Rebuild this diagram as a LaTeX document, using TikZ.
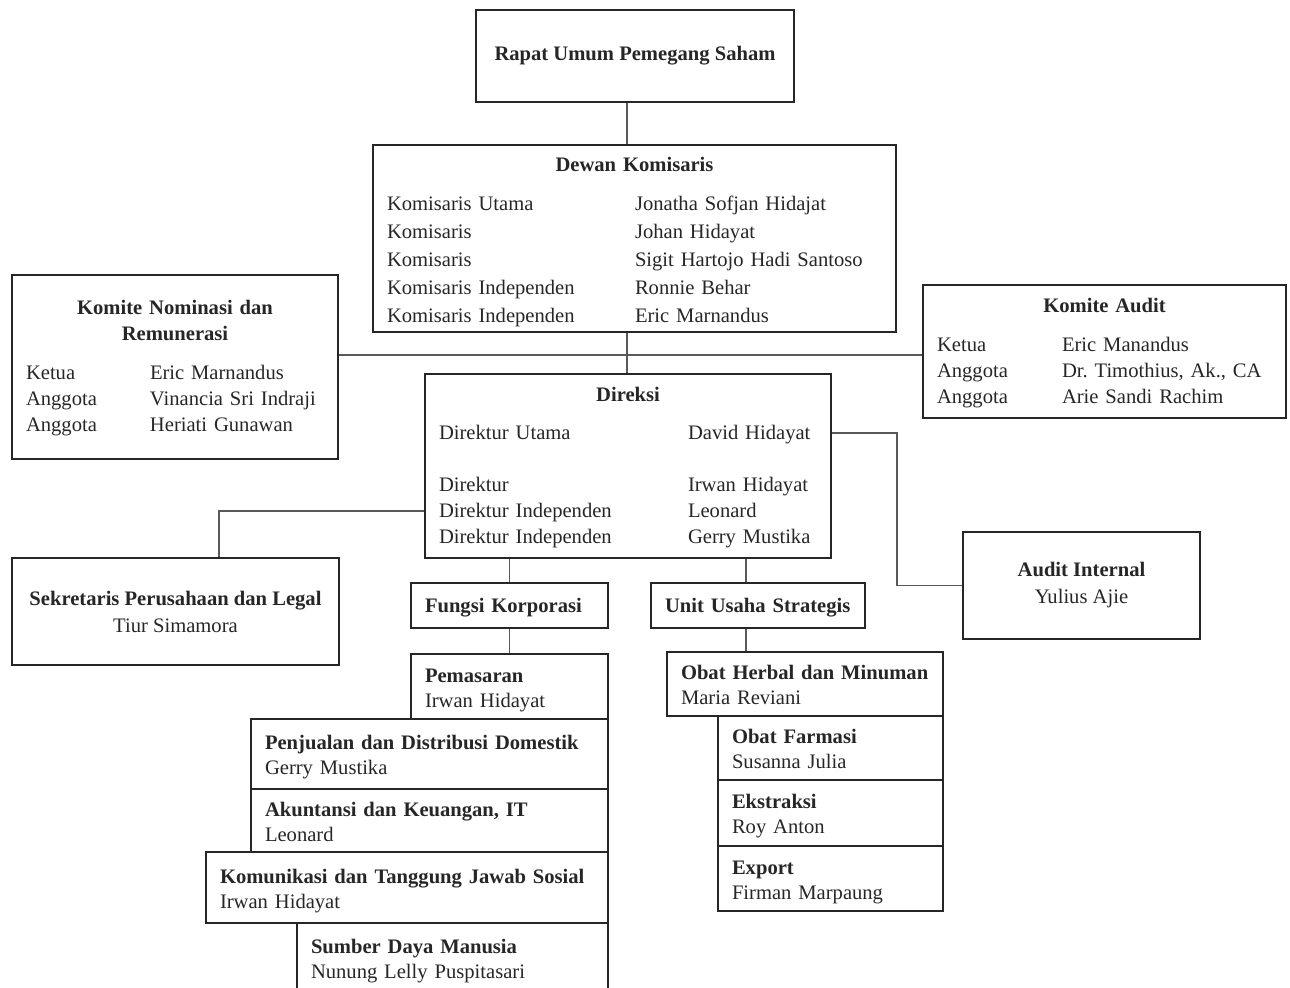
\documentclass[tikz,border=0pt]{standalone}
\usepackage{fontspec}
\setmainfont{Liberation Serif}
\tikzset{
  orgbox/.style={draw=black!85, line width=1pt, anchor=north west, inner xsep=7pt, inner ysep=0pt,
    align=left, text=black!85, font=\frenchspacing\fontsize{10.3}{13}\selectfont},
  midbox/.style={orgbox, align=center, font=\fontsize{10.3}{13.5}\selectfont},
  entry/.style={orgbox, font=\fontsize{10.3}{12.5}\selectfont},
  link/.style={draw=black!65, line width=0.6pt}
}
\newcommand{\orgentry}[2]{\begin{tabular}{@{}l@{}}\rule{0pt}{11.75pt}\textbf{#1}\\#2\end{tabular}}
\begin{document}
\begin{tikzpicture}[x=0.5pt, y=-0.5pt]
    \clip (0,0) rectangle (1290,988);
    \coordinate (hub) at (627,355);
    % shareholders and boards
    \node[midbox, minimum width=159pt, minimum height=46pt] (rups) at (475,9) {\textbf{Rapat Umum Pemegang Saham}};
    \node[orgbox, text width=247.5pt, minimum height=93.5pt, font=\fontsize{10.3}{14}\selectfont] (dewan) at (372,144)
      {\centering\rule{0pt}{13pt}\textbf{Dewan Komisaris}\par\vspace{5.5pt}\raggedright
       \begin{tabular}[t]{@{}p{124pt}@{}l@{}}
       Komisaris Utama & Jonatha Sofjan Hidajat\\
       Komisaris & Johan Hidayat\\
       Komisaris & Sigit Hartojo Hadi Santoso\\
       Komisaris Independen & Ronnie Behar\\
       Komisaris Independen & Eric Marnandus
       \end{tabular}};
    \node[orgbox, text width=149pt, minimum height=92pt] (nominasi) at (11,274)
      {\centering\rule{0pt}{10pt}\textbf{Komite Nominasi dan}\\\textbf{Remunerasi}\par\vspace{6.5pt}\raggedright
       \begin{tabular}[t]{@{}p{62pt}@{}l@{}}
       Ketua & Eric Marnandus\\
       Anggota & Vinancia Sri Indraji\\
       Anggota & Heriati Gunawan
       \end{tabular}};
    \node[orgbox, text width=167.5pt, minimum height=66.5pt] (komaudit) at (922,284)
      {\centering\rule{0pt}{10pt}\textbf{Komite Audit}\par\vspace{6.5pt}\raggedright
       \begin{tabular}[t]{@{}p{62.5pt}@{}l@{}}
       Ketua & Eric Manandus\\
       Anggota & Dr. Timothius, Ak., CA\\
       Anggota & Arie Sandi Rachim
       \end{tabular}};
    \node[orgbox, text width=189pt, minimum height=92pt] (direksi) at (424,373)
      {\centering\rule{0pt}{10pt}\textbf{Direksi}\par\vspace{6pt}\raggedright
       \begin{tabular}[t]{@{}p{124.5pt}@{}l@{}}
       Direktur Utama & David Hidayat\\
        & \\
       Direktur & Irwan Hidayat\\
       Direktur Independen & Leonard\\
       Direktur Independen & Gerry Mustika
       \end{tabular}};
    \node[midbox, minimum width=118.5pt, minimum height=53.5pt] (intaudit) at (962,531) {\textbf{Audit Internal}\\Yulius Ajie};
    \node[midbox, minimum width=163.5pt, minimum height=53.5pt] (sekretaris) at (11,557) {\textbf{Sekretaris Perusahaan dan Legal}\\Tiur Simamora};
    % corporate functions
    \node[orgbox, text width=84.5pt, minimum height=22.5pt] (fungsi) at (410,582) {\rule{0pt}{9pt}\textbf{Fungsi Korporasi}};
    \node[entry, text width=84.5pt, minimum height=32.5pt] (pemasaran) at (410,653) {\orgentry{Pemasaran}{Irwan Hidayat}};
    \node[entry, text width=164.5pt, minimum height=35pt] (penjualan) at (250,718) {\orgentry{Penjualan dan Distribusi Domestik}{Gerry Mustika}};
    \node[entry, text width=164.5pt, minimum height=31.5pt] (akuntansi) at (250,788) {\orgentry{Akuntansi dan Keuangan, IT}{Leonard}};
    \node[entry, text width=187pt, minimum height=35.5pt] (komunikasi) at (205,851) {\orgentry{Komunikasi dan Tanggung Jawab Sosial}{Irwan Hidayat}};
    \node[entry, text width=141.5pt, minimum height=35pt] (sdm) at (296,922) {\orgentry{Sumber Daya Manusia}{Nunung Lelly Puspitasari}};
    % strategic units
    \node[orgbox, text width=93pt, minimum height=22.5pt] (uus) at (650,582) {\rule{0pt}{9pt}\textbf{Unit Usaha Strategis}};
    \node[entry, text width=124pt, minimum height=32pt] (herbal) at (666,651) {\orgentry{Obat Herbal dan Minuman}{Maria Reviani}};
    \node[entry, text width=98.5pt, minimum height=32pt] (farmasi) at (717,715) {\orgentry{Obat Farmasi}{Susanna Julia}};
    \node[entry, text width=98.5pt, minimum height=33pt] (ekstraksi) at (717,779) {\orgentry{Ekstraksi}{Roy Anton}};
    \node[entry, text width=98.5pt, minimum height=32.5pt] (export) at (717,845) {\orgentry{Export}{Firman Marpaung}};
    % connectors
    \draw[link] (rups.south -| hub) -- (dewan.north -| hub);
    \draw[link] (dewan.south -| hub) -- (direksi.north -| hub);
    \draw[link] (nominasi.east |- hub) -- (komaudit.west |- hub);
    \coordinate (iaknee) at (897,433);
    \draw[link] (direksi.east |- iaknee) -- (iaknee) |- (intaudit.west);
    \coordinate (skknee) at (219,511);
    \draw[link] (direksi.west |- skknee) -- (skknee) -- (skknee |- sekretaris.north);
    \draw[link] (fungsi.north) -- (fungsi.north |- direksi.south);
    \draw[link] (fungsi.south) -- (pemasaran.north);
    \coordinate (uuslink) at ([xshift=-6pt]uus.north);
    \coordinate (uusfoot) at ([xshift=-6pt]uus.south);
    \draw[link] (uuslink) -- (uuslink |- direksi.south);
    \draw[link] (uusfoot) -- (uusfoot |- herbal.north);
\end{tikzpicture}
\end{document}
